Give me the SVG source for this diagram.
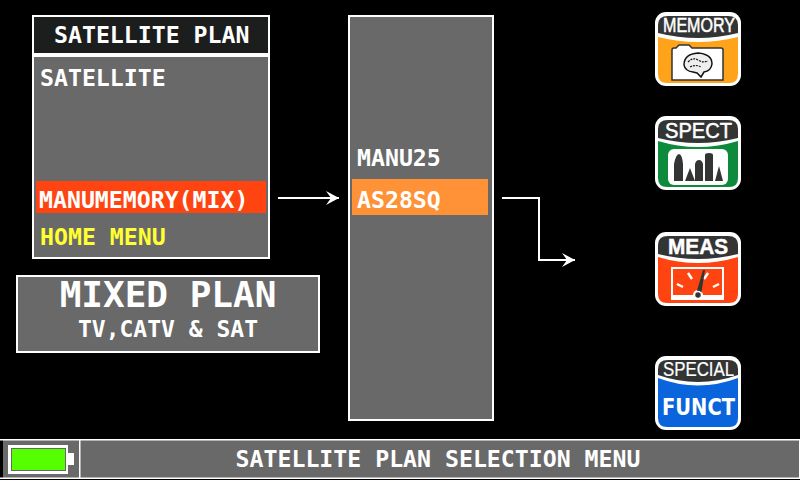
<svg xmlns="http://www.w3.org/2000/svg" width="800" height="480" viewBox="0 0 800 480">
<style>
.box{fill:#696969;stroke:#fff;stroke-width:2}
.t{font-family:"DejaVu Sans Mono","Liberation Mono",monospace;font-weight:bold;font-size:23.200px;fill:#fff}
.y{fill:#ffff33}
.m{text-anchor:middle}
.c{fill:none;stroke:#fff;stroke-width:2}
.ifr{fill:#fff}
.cap{fill:#333535}
.il{font-family:"Liberation Sans",Arial,sans-serif;fill:#fff;stroke:#fff;stroke-width:.5}
.dk{fill:#333535}
</style>
<defs>
<marker id="a" markerUnits="userSpaceOnUse" markerWidth="16" markerHeight="16" refX="14" refY="8" orient="auto"><path d="M1 1L14 8L1 15L6 8Z" fill="#fff"/></marker>
</defs>
<rect width="800" height="480" fill="#000"/>

<g id="satellite-plan">
<rect class="box" x="33" y="16" width="236" height="242"/>
<rect x="34" y="17" width="234" height="36" fill="#1c1e1e"/>
<rect x="34" y="53" width="234" height="4" fill="#fff"/>
<text class="t" x="54" y="43">SATELLITE PLAN</text>
<text class="t" x="40" y="86">SATELLITE</text>
<rect x="36" y="181" width="230" height="32" fill="#ff4411"/>
<text class="t" x="39" y="208">MANUMEMORY(MIX)</text>
<text class="t y" x="40" y="245">HOME MENU</text>
</g>

<g id="mixed-plan">
<rect class="box" x="17" y="276" width="302" height="76"/>
<text class="t m" x="168" y="307" style="font-size:36px">MIXED PLAN</text>
<text class="t m" x="168" y="336.500" style="font-size:23px">TV,CATV &amp; SAT</text>
</g>

<g id="plan-list">
<rect class="box" x="349" y="16" width="144" height="404"/>
<text class="t" x="357" y="166">MANU25</text>
<rect x="352" y="179" width="136" height="36" fill="#ff9137"/>
<text class="t" x="357" y="208">AS28SQ</text>
</g>

<g id="connectors">
<path class="c" d="M278 198H339" marker-end="url(#a)"/>
<path class="c" d="M502 198H539V260H575" marker-end="url(#a)"/>
</g>

<g id="icon-memory" transform="translate(655 12)">
<rect class="ifr" width="86" height="74" rx="11"/>
<path d="M3 25Q43 35 83 25V62Q83 71 74 71H12Q3 71 3 62Z" fill="#ffa31a"/>
<path d="M3 21V13Q3 4 13 4H73Q83 4 83 13V21Q43 31 3 21Z" class="cap"/>
<text class="il" x="8" y="20" style="font-size:19.500px" textLength="72" lengthAdjust="spacingAndGlyphs">MEMORY</text>
<path d="M17 68V38Q17 36 19 36H21L24 33H34L37 36H66Q68 36 68 38V68Z" fill="#fff" stroke="#333" stroke-width="1.500"/>
<path d="M29 53Q29 42 43 41Q57 42 57 52Q56 59 49 60L46 65L42 61L38 60Q30 59 29 53Z" fill="#eee" stroke="#111" stroke-width="1.500"/>
<path d="M33 50Q38 45 43 48T53 49M35 55Q41 52 46 55" fill="none" stroke="#111" stroke-width="1.200" stroke-dasharray="2 1"/>
</g>

<g id="icon-spect" transform="translate(655 116)">
<rect class="ifr" width="86" height="74" rx="11"/>
<path d="M3 25Q43 37 83 25V62Q83 71 74 71H12Q3 71 3 62Z" fill="#0d8a3c"/>
<path d="M3 22V13Q3 4 13 4H73Q83 4 83 13V22Q43 32 3 22Z" class="cap"/>
<text class="il" x="10" y="22" style="font-size:22px" textLength="67" lengthAdjust="spacingAndGlyphs">SPECT</text>
<rect x="13" y="33" width="60" height="36" rx="6" fill="#fff"/>
<path d="M19 65V48Q21 38 24 38Q27 38 28 48V65Z M30 65L35 52L40 65Z M40 65V48Q41 44 44 44Q47 44 48 48V65Z M50 65V39Q50 37 54 37Q58 37 58 39V65Z M60 65L64 50L68 65Z" class="dk"/>
</g>

<g id="icon-meas" transform="translate(655 232)">
<rect class="ifr" width="86" height="74" rx="11"/>
<path d="M3 25Q43 37 83 25V62Q83 71 74 71H12Q3 71 3 62Z" fill="#ff4411"/>
<path d="M3 22V13Q3 4 13 4H73Q83 4 83 13V22Q43 32 3 22Z" class="cap"/>
<text class="il" x="13" y="22" style="font-size:22px;font-weight:bold" textLength="60" lengthAdjust="spacingAndGlyphs">MEAS</text>
<path d="M16 68V35H69V68Z" fill="#fff"/>
<path d="M18 37H67V63H48A5 5 0 0 0 38 63H18Z" fill="#ff4411"/>
<path d="M22 52L28 55M33 41L37 47M53 41L49 47M64 52L58 55" stroke="#fff" stroke-width="2.500" fill="none"/>
<path d="M41 62L48 38L50 38L46 63Z" class="dk"/>
<circle cx="43" cy="63" r="3.500" class="dk" stroke="#fff" stroke-width="1.500"/>
</g>

<g id="icon-special" transform="translate(655 356)">
<rect class="ifr" width="86" height="74" rx="11"/>
<path d="M3 22Q43 37 83 22V62Q83 71 74 71H12Q3 71 3 62Z" fill="#0a64dc"/>
<path d="M3 19V13Q3 4 13 4H73Q83 4 83 13V19Q43 33 3 19Z" class="cap"/>
<text class="il" x="8" y="20" style="font-size:19.500px;stroke-width:.2" textLength="71" lengthAdjust="spacingAndGlyphs">SPECIAL</text>
<text class="il" x="7" y="59" style="font-family:'DejaVu Sans',sans-serif;font-size:23px;font-weight:bold;stroke-width:0" textLength="73" lengthAdjust="spacingAndGlyphs">FUNCT</text>
</g>

<g id="status-bar">
<rect x="3" y="440" width="796" height="38" fill="#696969"/>
<rect x="0" y="439" width="800" height="1.500" fill="#fff"/>
<rect x="79" y="440" width="1.500" height="38" fill="#fff"/>
<rect x="0" y="477.500" width="800" height="1.500" fill="#fff"/>
<rect x="799" y="440" width="1" height="38" fill="#fff"/>
<text class="t m" x="438" y="467">SATELLITE PLAN SELECTION MENU</text>
</g>

<g id="battery">
<rect x="8" y="445" width="60" height="29" fill="#fff"/>
<rect x="68" y="453" width="6" height="12" fill="#fff"/>
<rect x="11" y="448" width="55" height="23" fill="#666"/>
<rect x="12" y="449" width="53" height="21" fill="#55ff00"/>
</g>
</svg>
